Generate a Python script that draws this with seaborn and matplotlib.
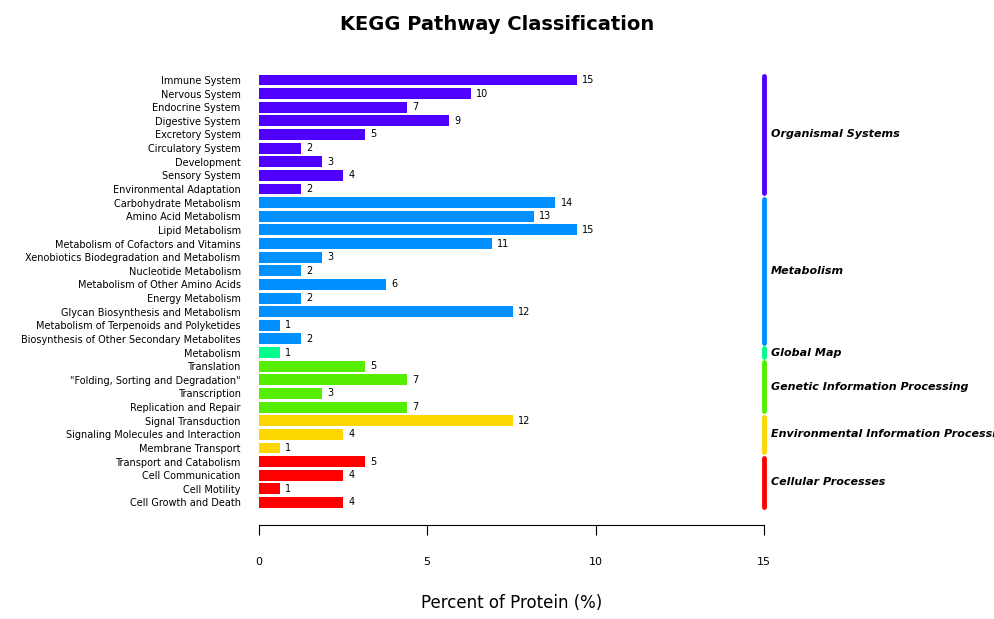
import matplotlib
matplotlib.use('Agg')
import matplotlib.pyplot as plt
import seaborn as sns
import pandas as pd

pathways = ['Immune System', 'Nervous System', 'Endocrine System', 'Digestive System', 'Excretory System',
            'Circulatory System', 'Development', 'Sensory System', 'Environmental Adaptation',
            'Carbohydrate Metabolism', 'Amino Acid Metabolism', 'Lipid Metabolism',
            'Metabolism of Cofactors and Vitamins', 'Xenobiotics Biodegradation and Metabolism',
            'Nucleotide Metabolism', 'Metabolism of Other Amino Acids', 'Energy Metabolism',
            'Glycan Biosynthesis and Metabolism', 'Metabolism of Terpenoids and Polyketides',
            'Biosynthesis of Other Secondary Metabolites', 'Metabolism',
            'Translation', '"Folding, Sorting and Degradation"', 'Transcription', 'Replication and Repair',
            'Signal Transduction', 'Signaling Molecules and Interaction', 'Membrane Transport',
            'Transport and Catabolism', 'Cell Communication', 'Cell Motility', 'Cell Growth and Death']
counts = [15, 10, 7, 9, 5, 2, 3, 4, 2,
          14, 13, 15, 11, 3, 2, 6, 2, 12, 1, 2,
          1,
          5, 7, 3, 7,
          12, 4, 1,
          5, 4, 1, 4]
groups = ['Organismal Systems'] * 9 + ['Metabolism'] * 11 + ['Global Map'] + \
         ['Genetic Information Processing'] * 4 + ['Environmental Information Processing'] * 3 + \
         ['Cellular Processes'] * 4
group_names = ['Organismal Systems', 'Metabolism', 'Global Map', 'Genetic Information Processing',
               'Environmental Information Processing', 'Cellular Processes']
group_colors = ['#4F00FF', '#0090FF', '#00FF8C', '#55EE00', '#FFD700', '#FF0000']
total_proteins = 159

df = pd.DataFrame({'pathway': pathways, 'count': counts, 'group': groups})
df['percent'] = df['count'] / total_proteins * 100

fig = plt.figure(figsize=(9.95, 6.19), dpi=100)
ax = fig.add_axes([0.26, 0.175, 0.508, 0.709])
sns.barplot(data=df, y='pathway', x='percent', hue='group', hue_order=group_names,
            palette=group_colors, dodge=False, legend=False, width=0.8, saturation=1,
            ax=ax, orient='h')

for i, (p, c) in enumerate(zip(df['percent'], df['count'])):
    ax.text(p + 0.15, i, str(c), va='center', ha='left', fontsize=7)

# group brackets
start = 0
for g, col in zip(group_names, group_colors):
    n = groups.count(g)
    y0, y1 = start - 0.3, start + n - 1 + 0.3
    ax.plot([15, 15], [y0, y1], color=col, lw=3.5, solid_capstyle='round', clip_on=False)
    ax.text(15.2, (y0 + y1) / 2, g, fontsize=8, fontstyle='italic', fontweight='bold',
            va='center', ha='left', clip_on=False)
    start += n

ax.set_xlim(0, 15)
ax.set_ylim(31.6, -0.6)
ax.set_xticks([0, 5, 10, 15])
ax.set_ylabel('')
ax.set_xlabel('Percent of Protein (%)', fontsize=12, labelpad=20)
ax.tick_params(axis='y', length=0, labelsize=7, pad=20)
ax.tick_params(axis='y', pad=13)
ax.tick_params(axis='x', length=7, labelsize=8, pad=16)
for s in ['top', 'right', 'left']:
    ax.spines[s].set_visible(False)
ax.spines['bottom'].set_position(('outward', 10))
fig.suptitle('KEGG Pathway Classification', fontsize=14, fontweight='bold', y=0.975)

plt.savefig('out.png', dpi=100)
